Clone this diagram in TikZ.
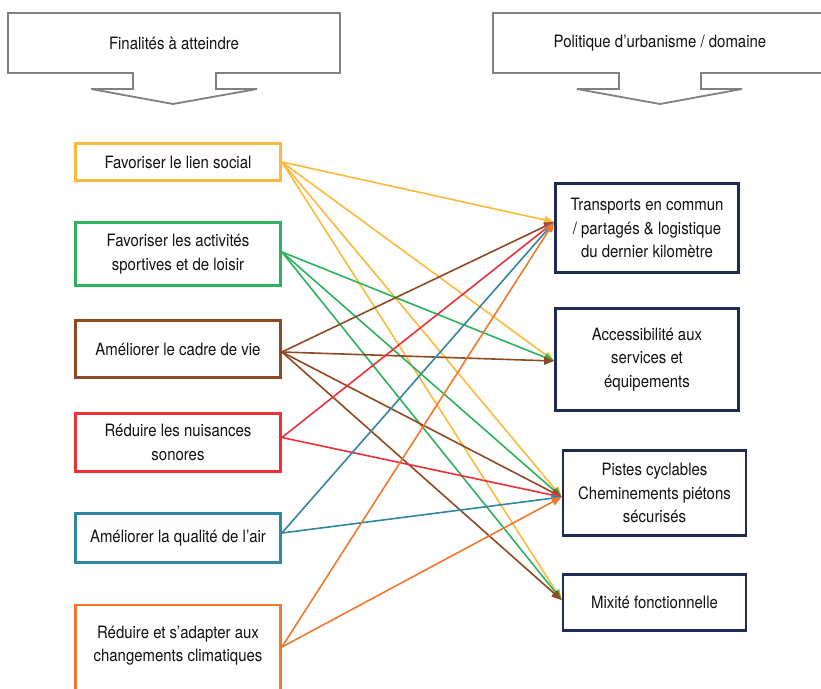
\documentclass[tikz,border=0pt]{standalone}
\usepackage{fontspec}
\setmainfont{TeX Gyre Heros}[FakeStretch=0.88]
\usetikzlibrary{arrows.meta}
\definecolor{cyel}{HTML}{FBBA3E}
\definecolor{cgrn}{HTML}{2EB25E}
\definecolor{cbrn}{HTML}{8E4B22}
\definecolor{cred}{HTML}{EC3139}
\definecolor{cteal}{HTML}{3186A0}
\definecolor{cora}{HTML}{F0782F}
\definecolor{cnavy}{HTML}{1E2B55}
\definecolor{cgray}{HTML}{808080}
\definecolor{ctext}{HTML}{111111}
\tikzset{
  txt/.style={font=\fontsize{17}{23.5}\selectfont, text=ctext, align=center},
  goalbox/.style={txt, draw=#1, line width=2.8pt, minimum width=205pt, inner sep=0pt},
  dombox/.style={txt, draw=cnavy, line width=2.8pt, minimum width=183pt, inner sep=0pt},
  headline/.style={draw=cgray, line width=1.8pt, line join=miter},
  con/.style={draw=#1, line width=1.6pt, -{Triangle[length=10pt,width=8pt]}, #1},
}
\begin{document}
\begin{tikzpicture}[x=1pt,y=-1pt]
\useasboundingbox (0,0) rectangle (821,688);
\fill[white] (0,0) rectangle (821,688);

% header callouts
\draw[headline] (8,13) -- (340,13) -- (340,73) -- (216,73) -- (216,89) -- (257,89)
  -- (173,104) -- (91,89) -- (133,89) -- (133,73) -- (8,73) -- cycle;
\node[txt] (h1) at (174,43) {Finalités à atteindre};
\draw[headline] (493,13) -- (828,13) -- (828,73) -- (701,73) -- (701,89) -- (742,89)
  -- (660,104) -- (577,89) -- (619,89) -- (619,73) -- (493,73) -- cycle;
\node[txt] (h2) at (660,43) {Politique d'urbanisme / domaine};

% goals
\node[goalbox=cyel,  minimum height=37pt] (b1) at (178,162) {Favoriser le lien social};
\node[goalbox=cgrn,  minimum height=63pt] (b2) at (178,254) {Favoriser les activités\\sportives et de loisir};
\node[goalbox=cbrn,  minimum height=57pt] (b3) at (178,349) {Améliorer le cadre de vie};
\node[goalbox=cred,  minimum height=58pt] (b4) at (178,442.5) {Réduire les nuisances\\sonores};
\node[goalbox=cteal, minimum height=49pt] (b5) at (178,538) {Améliorer la qualité de l'air};
\node[goalbox=cora,  minimum height=92pt, text depth=14pt] (b6) at (178,651) {Réduire et s'adapter aux\\changements climatiques};

% domains
\node[dombox, minimum height=89pt]  (r1) at (647,228) {Transports en commun\\/ partagés \& logistique\\du dernier kilomètre};
\node[dombox, minimum height=102pt] (r2) at (647,359.5) {Accessibilité aux\\services et\\équipements};
\node[dombox, minimum height=85pt]  (r3) at (654.5,493) {Pistes cyclables\\Cheminements piétons\\sécurisés};
\node[dombox, minimum height=56pt]  (r4) at (654.5,602.5) {Mixité fonctionnelle};

% connector ends
\coordinate (s1) at (b1.east);
\coordinate (s2) at ([yshift=2pt]b2.east);
\coordinate (s3) at ([yshift=-3pt]b3.east);
\coordinate (s4) at ([yshift=5pt]b4.east);
\coordinate (s5) at ([yshift=5pt]b5.east);
\coordinate (s6) at ([yshift=4pt]b6.east);
\coordinate (t1) at ([yshift=6pt]r1.west);
\coordinate (t2) at ([yshift=-1.5pt]r2.west);
\coordinate (t3) at ([yshift=-4pt]r3.west);
\coordinate (t4) at ([yshift=2.5pt]r4.west);

% links
\draw[con=cyel] (s1) -- (t1);
\draw[con=cyel] (s1) -- (t2);
\draw[con=cyel] (s1) -- (t3);
\draw[con=cyel] (s1) -- (t4);
\draw[con=cgrn] (s2) -- (t2);
\draw[con=cgrn] (s2) -- (t3);
\draw[con=cgrn] (s2) -- (t4);
\draw[con=cbrn] (s3) -- (t1);
\draw[con=cbrn] (s3) -- (t2);
\draw[con=cbrn] (s3) -- (t3);
\draw[con=cbrn] (s3) -- (t4);
\draw[con=cred] (s4) -- (t1);
\draw[con=cred] (s4) -- (t3);
\draw[con=cteal] (s5) -- (t1);
\draw[con=cteal] (s5) -- (t3);
\draw[con=cora] (s6) -- (t1);
\draw[con=cora] (s6) -- (t3);
\end{tikzpicture}
\end{document}
